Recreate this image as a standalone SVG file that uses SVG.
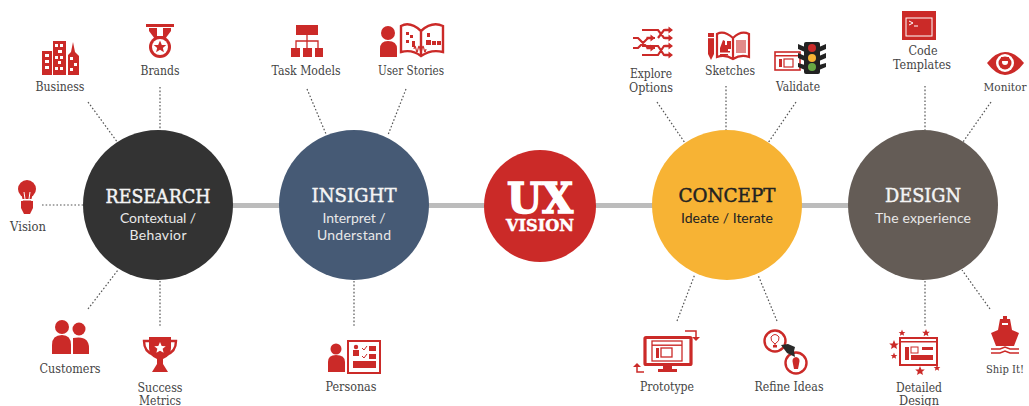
<svg xmlns="http://www.w3.org/2000/svg" width="1029" height="406" viewBox="0 0 1029 406">
<style>
.l{font-family:"DejaVu Serif","Liberation Serif",serif;font-size:12px;fill:#444;text-anchor:middle}
.t{font-family:"DejaVu Serif","Liberation Serif",serif;font-size:19px;fill:#f4f4f4;text-anchor:middle;stroke:#f4f4f4;stroke-width:.45}
.k{fill:#222;stroke:#222}
.s{font-family:"Lato","Open Sans",sans-serif;font-size:14px;fill:#e8e8e8;text-anchor:middle}
.r{fill:#cb2a28}
.w{fill:#fff}
.o{fill:none;stroke:#cb2a28}
.ow{fill:none;stroke:#fff}
.d{fill:none;stroke:#555;stroke-width:1.2;stroke-dasharray:1.6 2}
</style>
<defs>
<polygon id="star" points="0,-5 1.4,-1.6 4.8,-1.5 2.2,0.7 3,4 0,2.2 -3,4 -2.2,0.7 -4.8,-1.5 -1.4,-1.6"/>
<path id="arw" d="M0,0l-4.500,-3.500v2.300h-4v2.400h4v2.300z"/>
</defs>
<g id="connectors">
<rect x="225" y="203" width="630" height="5" fill="#bcbcbc"/>
<path class="d" d="M88,102L118,143M160,87V131M42,205H88M88,309L118,270M160,281V326M307,89L326,134M406,89L388,135M354,281V326M657,102L685,143M726,86V131M796,102L768,143M677,321L695,274M777,321L758,275M925,86V131M991,102L963,142M925,281V326M990,309L962,270"/>
</g>
<g id="research">
<circle cx="158" cy="205" r="75" fill="#333"/>
<text class="t" x="158" y="203" textLength="105" lengthAdjust="spacingAndGlyphs">RESEARCH</text>
<text class="s" x="158" y="223" textLength="76">Contextual /</text>
<text class="s" x="158" y="240" textLength="57">Behavior</text>
</g>
<g id="insight">
<circle cx="354" cy="205" r="75" fill="#465a75"/>
<text class="t" x="354" y="202" textLength="85" lengthAdjust="spacingAndGlyphs">INSIGHT</text>
<text class="s" x="354" y="223" textLength="63">Interpret /</text>
<text class="s" x="354" y="240" textLength="74">Understand</text>
</g>
<g id="ux-vision">
<circle cx="540" cy="206" r="56" fill="#cb2a28"/>
<text x="540" y="213" text-anchor="middle" font-family="DejaVu Serif" font-weight="700" font-size="43" fill="#fff" stroke="#fff" stroke-width="1.6" textLength="66" lengthAdjust="spacingAndGlyphs">UX</text>
<text x="540" y="231" text-anchor="middle" font-family="DejaVu Serif" font-weight="700" font-size="16" fill="#fff" stroke="#fff" stroke-width=".5" textLength="68" lengthAdjust="spacingAndGlyphs">VISION</text>
</g>
<g id="concept">
<circle cx="727" cy="205" r="75" fill="#f7b334"/>
<text class="t k" x="727" y="202" textLength="97" lengthAdjust="spacingAndGlyphs">CONCEPT</text>
<text class="s" x="727" y="223" textLength="92" style="fill:#222">Ideate / Iterate</text>
</g>
<g id="design">
<circle cx="923" cy="205" r="75" fill="#645c56"/>
<text class="t" x="923" y="202" textLength="76" lengthAdjust="spacingAndGlyphs">DESIGN</text>
<text class="s" x="923" y="223" textLength="96">The experience</text>
</g>
<g id="business">
<rect class="r" x="42" y="51" width="10" height="24"/><rect class="r" x="53" y="41" width="13" height="34"/><path class="r" d="M68,75V55L71,52L73,42L75,52L79,56V75Z"/>
<path class="w" d="M45,54h4v3h-4zM45,60h4v3h-4zM45,66h4v3h-4zM55,44h3v3h-3zM60,44h3v3h-3zM58,50h4v3h-4zM55,56h3v3h-3zM60,56h3v3h-3zM58,61h3v3h-3zM55,67h3v3h-3zM60,67h3v3h-3zM70,57h3v3h-3zM74,63h3v3h-3zM70,68h3v3h-3z"/>
<text class="l" x="60" y="91" textLength="49" lengthAdjust="spacingAndGlyphs">Business</text>
</g>
<g id="brands">
<rect class="r" x="146" y="24" width="28" height="3"/><path class="r" d="M149,28H171V31L165,39H155L149,31Z"/><rect class="w" x="157" y="28" width="6" height="8"/>
<circle class="r" cx="160" cy="47" r="11"/><circle class="w" cx="160" cy="47" r="8"/><use href="#star" class="r" transform="translate(160 47) scale(1.3)"/>
<text class="l" x="160" y="75" textLength="39" lengthAdjust="spacingAndGlyphs">Brands</text>
</g>
<g id="vision">
<circle class="r" cx="27" cy="189" r="9"/><path class="r" d="M21,193L23,201H31L33,193Z"/><path class="r" d="M21,201H33V208L30,214H24L21,208Z"/>
<path class="ow" stroke-width="1" d="M24,192L25,199M30,192L29,199"/><rect class="w" x="20" y="199" width="14" height="1.5"/>
<text class="l" x="28" y="231" textLength="36" lengthAdjust="spacingAndGlyphs">Vision</text>
</g>
<g id="customers">
<circle class="r" cx="62" cy="327" r="7"/><circle class="r" cx="79" cy="329" r="6.5"/>
<path class="r" d="M52,354V345Q52,335 62,335Q71,335 71,345V354Z"/><path class="r" d="M73,354V338Q89,335 89,348V354Z"/>
<text class="l" x="70" y="373" textLength="61" lengthAdjust="spacingAndGlyphs">Customers</text>
</g>
<g id="success-metrics">
<path class="o" stroke-width="2.400" d="M150,341H144Q144,352 154,355M170,341H176Q176,352 166,355"/>
<path class="r" d="M149,337H171V348Q171,356 163,359V364L168,372H152L157,364V359Q149,356 149,348Z"/>
<use href="#star" class="w" transform="translate(160 348) scale(1.2)"/>
<text class="l" x="160" y="392" textLength="45" lengthAdjust="spacingAndGlyphs">Success</text>
<text class="l" x="160" y="405" textLength="42" lengthAdjust="spacingAndGlyphs">Metrics</text>
</g>
<g id="task-models">
<rect class="r" x="296" y="25" width="22" height="10"/>
<path class="o" stroke-width="1.300" d="M307,35V48M296,48V41H318V48"/>
<rect class="r" x="291" y="48" width="9" height="9"/><rect class="r" x="303" y="48" width="9" height="9"/><rect class="r" x="315" y="48" width="8" height="9"/>
<text class="l" x="306" y="75" textLength="69" lengthAdjust="spacingAndGlyphs">Task Models</text>
</g>
<g id="user-stories">
<circle class="r" cx="388" cy="33" r="7"/><path class="r" d="M380,57V49Q380,41 388,41Q397,41 397,49V57Z"/>
<path class="o" stroke-width="2.400" d="M421,31Q410,21 401,26V52Q412,49 421,56Q431,49 443,52V26Q432,21 421,31V56"/>
<path class="r" d="M406,32h3v3h-3zM410,35h3v3h-3zM412,41h3v6h-3zM427,33h3v4h-3zM426,40h5v5h-5zM432,41h4v4h-4zM437,41h4v4h-4zM406,40h3v3h-3z"/>
<path class="o" stroke-width="1.200" d="M414,49q1,-6 2,0t2,0t2,0t2,0t2,0t2,0"/>
<text class="l" x="411" y="75" textLength="66" lengthAdjust="spacingAndGlyphs">User Stories</text>
</g>
<g id="personas">
<circle class="r" cx="336" cy="349" r="5.500"/><path class="r" d="M328,372V362Q328,355 336,355Q345,355 345,362V372Z"/>
<rect class="o" x="348" y="341" width="32" height="32" stroke-width="2"/>
<circle class="r" cx="356" cy="347" r="2.200"/><rect class="r" x="353" y="350" width="6" height="6"/>
<rect class="r" x="369" y="346" width="7" height="5"/><rect class="r" x="369" y="354" width="7" height="5"/>
<path class="o" stroke-width="1" d="M362,348l2,2l3,-4M362,356l2,2l3,-4"/>
<rect class="r" x="353" y="361" width="23" height="7"/>
<text class="l" x="351" y="391" textLength="51" lengthAdjust="spacingAndGlyphs">Personas</text>
</g>
<g id="explore-options">
<path class="o" stroke-width="2.200" d="M633,38H638L648,48H655M633,48H638L648,38H655M642,30H658L664,38H668M658,38L664,30H668M642,55H658L664,46H668M642,46H658L664,55H668"/>
<use href="#arw" class="r" transform="translate(673 30)"/><use href="#arw" class="r" transform="translate(673 38)"/><use href="#arw" class="r" transform="translate(673 46)"/><use href="#arw" class="r" transform="translate(673 55)"/><use href="#arw" class="r" transform="translate(655 38)"/><use href="#arw" class="r" transform="translate(655 48)"/>
<text class="l" x="651" y="78" textLength="42" lengthAdjust="spacingAndGlyphs">Explore</text>
<text class="l" x="651" y="92" textLength="44" lengthAdjust="spacingAndGlyphs">Options</text>
</g>
<g id="sketches">
<path class="r" d="M708,33H714V54L711,60L708,54Z"/><rect class="w" x="708" y="37" width="6" height="1.200"/>
<path class="o" stroke-width="2.200" d="M733,38Q724,30 717,34V57Q725,54 733,59Q741,54 749,57V34Q741,30 733,38V59"/>
<path class="r" d="M720,48l3,-8l2,1v4h2v-4h4v8h-3v2h-8zM720,51h10v1.500h-10zM720,54h8v1.500h-8z"/>
<path d="M736,40h10v13h-10z" fill="#cb2a28" opacity=".55"/>
<text class="l" x="730" y="75" textLength="50" lengthAdjust="spacingAndGlyphs">Sketches</text>
</g>
<g id="validate">
<rect class="o" x="775" y="52" width="25" height="18" stroke-width="1.600"/><path class="r" d="M775,55h25v1.500h-25z"/><rect class="r" x="779" y="59" width="3" height="8"/><rect class="o" x="784" y="59" width="9" height="8" stroke-width="1.200"/>
<path d="M798,44L805,47V52L798,49ZM826,44L819,47V52L826,49ZM798,53L805,56V61L798,58ZM826,53L819,56V61L826,58ZM798,63L805,65V70L798,67ZM826,63L819,65V70L826,67Z" fill="#222"/>
<rect x="804" y="42" width="16" height="32" rx="2" fill="#222"/>
<circle cx="812" cy="48" r="4" fill="#cb2a28"/><circle cx="812" cy="58" r="4" fill="#f7b334"/><circle cx="812" cy="67" r="4" fill="#68a944"/>
<text class="l" x="798" y="91" textLength="44" lengthAdjust="spacingAndGlyphs">Validate</text>
</g>
<g id="prototype">
<rect class="o" x="645" y="337.500" width="46" height="27" rx="1" stroke-width="3.200"/>
<rect class="o" x="652" y="341" width="30" height="20" stroke-width="1.300"/><rect class="r" x="652" y="344.500" width="30" height="1.400"/>
<rect class="r" x="656" y="348" width="3" height="10"/><rect class="o" x="661" y="348" width="11" height="9" stroke-width="1.300"/>
<path class="r" d="M663,366h9v3h5v3h-19v-3h5z"/>
<path class="o" stroke-width="1.500" d="M685,331H696V338M637,366V372H644"/>
<path class="r" d="M692,337h8l-4,4zM633,367h8l-4,-4z"/>
<text class="l" x="667" y="391" textLength="54" lengthAdjust="spacingAndGlyphs">Prototype</text>
</g>
<g id="refine-ideas">
<circle class="o" cx="775" cy="341" r="10.500" stroke-width="2.400"/><circle class="o" cx="796" cy="363" r="10.500" stroke-width="2.400"/>
<path class="o" stroke-width="1" d="M775,345V344Q770,341 771,337Q775,332 779,337Q780,341 775,344"/>
<path class="r" d="M773,345h4v2.500h-4z"/>
<path class="r" d="M796,357Q801,358 799,364L798,369H794L793,364Q791,358 796,357Z"/>
<path d="M781,345L788,344L795,347L794,351L795,357L787,353Z" fill="#2a2a2a"/>
<text class="l" x="789" y="391" textLength="69" lengthAdjust="spacingAndGlyphs">Refine Ideas</text>
</g>
<g id="code-templates">
<rect class="r" x="902" y="11" width="34" height="29"/><rect class="ow" x="906" y="18" width="26" height="18" stroke-width="1"/>
<path class="ow" stroke-width="1" d="M909,21l4,2l-4,2M914,26h4"/>
<text class="l" x="923" y="55" textLength="29" lengthAdjust="spacingAndGlyphs">Code</text>
<text class="l" x="922" y="69" textLength="58" lengthAdjust="spacingAndGlyphs">Templates</text>
</g>
<g id="monitor">
<path class="r" d="M987,63Q996,52 1005,52Q1015,52 1024,63Q1015,75 1005,75Q996,75 987,63Z"/>
<circle class="w" cx="1005" cy="63" r="9"/><circle class="r" cx="1005" cy="63" r="6.500"/><circle class="w" cx="1005" cy="62" r="3"/>
<path class="r" d="M1001,57h8v4h-8z"/>
<text class="l" x="1005" y="91" textLength="43" lengthAdjust="spacingAndGlyphs" style="font-size:11px">Monitor</text>
</g>
<g id="detailed-design">
<rect class="o" x="900" y="338" width="37" height="27" stroke-width="2"/><rect class="r" x="900" y="341" width="37" height="1.500"/>
<rect class="r" x="905" y="347" width="4" height="13"/><rect class="o" x="911" y="347" width="7" height="6" stroke-width="1"/><rect class="r" x="922" y="347" width="11" height="3"/><rect class="r" x="911" y="355" width="22" height="5"/>
<use href="#star" class="r" transform="translate(894 345)"/><use href="#star" class="r" transform="translate(894 356) scale(.7)"/><use href="#star" class="r" transform="translate(902 333) scale(.7)"/><use href="#star" class="r" transform="translate(926 333) scale(.8)"/><use href="#star" class="r" transform="translate(920 371)"/><use href="#star" class="r" transform="translate(937 368) scale(.7)"/>
<text class="l" x="919" y="392" textLength="46" lengthAdjust="spacingAndGlyphs">Detailed</text>
<text class="l" x="919" y="405" textLength="40" lengthAdjust="spacingAndGlyphs">Design</text>
</g>
<g id="ship-it">
<path class="r" d="M1003,316h4v3h3l2,11l7,3l-5,13H996l-5,-13l7,-3l2,-11h3z"/>
<rect class="w" x="1002" y="323" width="6" height="2"/>
<path class="o" stroke-width="1.500" d="M991,349H1000L1005,347L1010,349H1019M991,353H1000L1005,351L1010,353H1019"/>
<text class="l" x="1005" y="373" textLength="38" lengthAdjust="spacingAndGlyphs" style="font-size:11px">Ship It!</text>
</g>
</svg>
